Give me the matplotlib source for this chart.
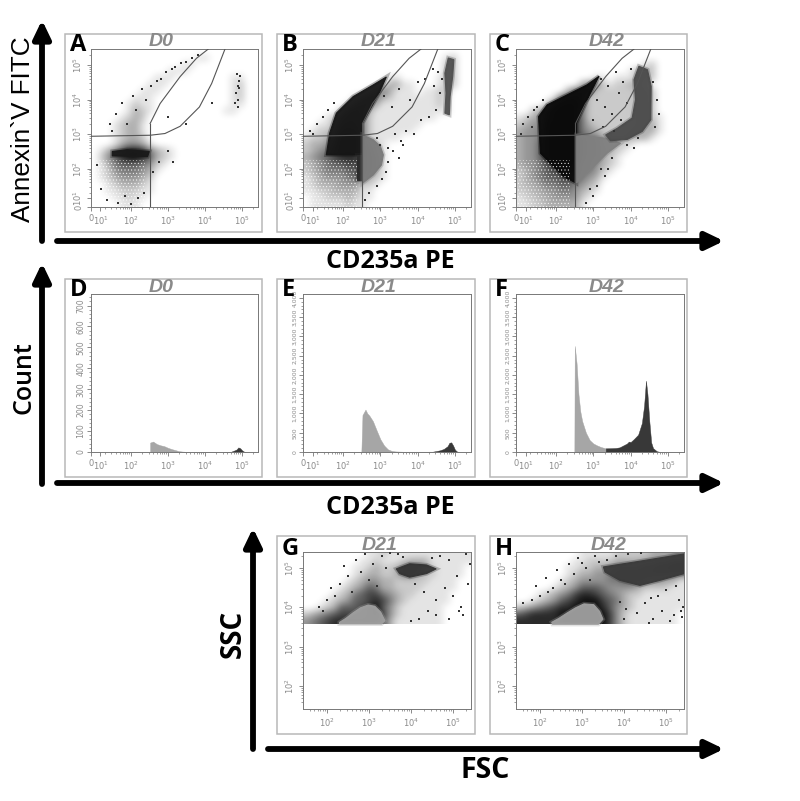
import matplotlib
matplotlib.use('Agg')
import matplotlib.pyplot as plt
import numpy as np
from matplotlib.colors import LinearSegmentedColormap
from matplotlib.patches import Rectangle, Polygon

# all x/y values below are log10 of the channel
# density rows are digits 0-9, how dark the cloud looks in that cell

A_rows = ["000000000000000000000000",
          "000000000000000110000000",
          "000000000000011000000000",
          "000000000001110000000000",
          "000000000111000000001100",
          "000000001110000000001200",
          "000000011100000000001200",
          "000000111000000000001200",
          "000001211000000000001100",
          "000001321000000000011000",
          "000012320000000000000000",
          "000123310000000000000000",
          "000123310000000000000000",
          "000123320000000000000000",
          "000134431000000000000000",
          "013579985321000000000000",
          "024689986321000000000000",
          "013566654210000000000000",
          "012455543100000000000000",
          "012344432000000000000000",
          "001233321000000000000000",
          "001122211000000000000000",
          "000112110000000000000000",
          "000011100000000000000000"]

B_rows = ["000000000000000000000000",
          "000000000000000000001200",
          "000000000000000000002200",
          "000000000000000000002200",
          "000000000000110000012200",
          "000000000001331100012200",
          "000000000135311101122000",
          "000000013553211111121000",
          "000000145531111111121000",
          "000002565311111111111000",
          "000125665211111111100000",
          "001136665211111110000000",
          "012247775211111100000000",
          "122358885211110000000000",
          "233468885321000000000000",
          "234578885421000000000000",
          "345678885431000000000000",
          "234566775431000000000000",
          "234555665431000000000000",
          "123444565321000000000000",
          "123334442210000000000000",
          "112233331100000000000000",
          "011222321100000000000000",
          "011111211000000000000000"]

C_rows = ["000000000000000000000000",
          "000000000000000000000000",
          "000000000000000000120000",
          "000000000000000013320000",
          "000000000001101113320000",
          "000000000355212233200000",
          "000000036662222223320000",
          "000001677622222223320000",
          "000027888622222223320000",
          "002378888522222223320000",
          "123478888522222223321000",
          "234488888532222223331000",
          "344588888543222233331000",
          "344588888655333333310000",
          "344688888655332210000000",
          "344688888655432100000000",
          "344688888655321000000000",
          "344578888554321000000000",
          "234567787554210000000000",
          "234566776543100000000000",
          "233455665432000000000000",
          "223344554321000000000000",
          "122334444210000000000000",
          "112233333100000000000000"]

G_rows = ["000000000112111111111111",
          "000000001121112333111111",
          "000000011232235553211110",
          "000000012332235532211110",
          "000000123443322222111100",
          "000001234653322221111100",
          "000012356775432211111000",
          "000123466787532111111000",
          "001236667896421111110000",
          "234567777897421111110000",
          "456788888886311111110000"]

H_rows = ["000000000111112222233344",
          "000000001122223333445566",
          "000000011223345555667788",
          "000000012334456666666655",
          "000000123444455666544331",
          "000001234666544443222211",
          "000123457887654322111111",
          "001234678999765321111111",
          "234567889999864321111111",
          "678888999999974211111110",
          "888888899999974211111110"]

# gate lines, same in A B C
gate_up_x = [2.52, 2.79, 3.33, 3.77, 4.09]
gate_up_y = [3.31, 3.89, 4.67, 5.20, 5.47]
gate_low_x = [0.925, 2.52, 2.92, 3.33, 3.85, 4.18, 4.54]
gate_low_y = [2.94, 2.97, 3.02, 3.23, 3.79, 4.47, 5.47]
gate_v_x = [2.52, 2.52]
gate_v_y = [0.89, 3.31]

# solid populations
A_core_x = [1.5, 2.45, 2.5, 1.9, 1.5]
A_core_y = [2.37, 2.35, 2.5, 2.55, 2.5]

B_wedge_x = [1.64, 1.82, 2.27, 2.81, 3.16, 2.99, 2.72, 2.52, 2.52, 1.55]
B_wedge_y = [3.03, 3.61, 4.09, 4.43, 4.66, 4.24, 3.71, 3.32, 2.40, 2.40]
B_strip_x = [2.38, 2.52, 2.52, 2.38]
B_strip_y = [2.40, 2.40, 1.67, 1.67]
B_grey_x = [2.52, 2.81, 3.0, 3.08, 3.03, 2.81, 2.52]
B_grey_y = [2.98, 2.84, 2.65, 2.40, 2.11, 1.82, 1.58]
B_right_x = [4.82, 4.97, 4.94, 4.87, 4.85, 4.73, 4.76, 4.73]
B_right_y = [5.21, 5.16, 4.68, 4.09, 3.56, 3.61, 4.19, 4.77]

C_black_x = [1.53, 1.76, 2.39, 2.83, 3.15, 2.92, 2.54, 2.54, 2.21, 1.58]
C_black_y = [3.51, 3.85, 4.19, 4.43, 4.68, 4.19, 3.32, 1.58, 1.77, 2.45]
C_grey_x = [2.54, 2.92, 3.37, 3.73, 3.37, 3.01, 2.54]
C_grey_y = [2.98, 2.93, 2.88, 2.74, 2.45, 2.06, 1.58]
C_right_x = [3.33, 3.64, 4.04, 4.13, 4.09, 4.22, 4.45, 4.55, 4.54, 4.31, 3.91, 3.46]
C_right_y = [2.98, 3.17, 3.47, 4.00, 4.58, 4.97, 4.87, 4.39, 3.42, 3.08, 2.85, 2.81]

G_top_x = [3.65, 3.97, 4.37, 4.60, 4.37, 3.97, 3.73]
G_top_y = [4.98, 5.11, 5.08, 4.98, 4.86, 4.77, 4.86]
G_grey_x = [2.30, 2.45, 2.62, 2.80, 2.98, 3.14, 3.28, 3.38, 3.30, 2.30]
G_grey_y = [3.62, 3.72, 3.86, 3.99, 4.06, 4.03, 3.88, 3.66, 3.58, 3.58]

H_top_x = [3.51, 4.46, 5.43, 5.43, 4.86, 4.38, 3.90, 3.55]
H_top_y = [5.03, 5.19, 5.36, 4.86, 4.69, 4.56, 4.69, 4.90]
H_grey_x = [2.28, 2.45, 2.65, 2.85, 3.05, 3.28, 3.42, 3.50, 3.39, 2.30]
H_grey_y = [3.62, 3.72, 3.86, 3.99, 4.09, 4.07, 3.90, 3.70, 3.57, 3.57]

# loose dots
A_dots_x = [1.2, 1.35, 1.1, 1.45, 1.6, 1.5, 1.75, 1.9, 2.05, 2.15, 2.3, 2.4, 2.55, 2.7, 2.8, 2.95, 3.1, 3.2, 3.35, 3.5,
            3.65, 3.8, 1.65, 1.85, 2.0, 2.2, 2.35, 2.6, 2.75, 3.0, 3.15, 4.85, 4.9, 4.95, 4.8, 4.88, 4.92, 4.86, 4.9, 4.93, 3.0, 3.5, 4.2]
A_dots_y = [1.4, 1.1, 2.1, 3.3, 3.6, 3.1, 3.9, 3.3, 4.1, 3.7, 4.3, 4.0, 4.4, 4.55, 4.6, 4.8, 4.9, 4.95, 5.05, 5.1,
            5.2, 5.3, 1.0, 1.2, 0.98, 1.15, 1.3, 1.9, 2.2, 2.5, 2.2, 4.2, 4.4, 4.7, 3.9, 4.0, 4.55, 4.75, 3.8, 4.35, 3.5, 3.3, 3.9]
B_dots_x = [1.1, 1.3, 1.45, 1.6, 1.2, 1.75, 2.9, 3.0, 3.2, 3.4, 3.55, 3.7, 3.9, 4.1, 4.3, 4.5, 3.1, 3.3, 3.5, 3.8, 4.0, 4.2, 4.45, 4.6,
            3.2, 3.35, 3.5, 3.15, 3.6, 2.7, 2.9, 2.6, 3.05, 4.65, 4.55, 4.4]
B_dots_y = [3.1, 3.3, 3.5, 3.7, 3.0, 3.9, 2.9, 2.7, 2.6, 3.0, 2.8, 3.1, 3.0, 3.4, 3.5, 3.7, 4.1, 3.8, 4.3, 4.0, 4.5, 4.6, 4.4, 4.2,
            2.2, 2.5, 2.3, 1.9, 2.7, 1.3, 1.5, 1.1, 1.7, 4.6, 4.8, 4.9]
C_dots_x = [1.1, 1.25, 1.4, 1.35, 1.05, 1.5, 1.65, 3.2, 3.4, 3.6, 3.8, 4.0, 3.1, 3.3, 3.5, 3.7, 3.9, 3.0, 3.25, 3.55, 3.75, 4.6, 4.7, 4.75, 4.65,
            3.1, 3.3, 3.0, 2.8, 2.9, 3.2, 4.1, 3.5, 3.9, 4.2, 3.4]
C_dots_y = [3.3, 3.5, 3.7, 3.2, 3.0, 3.8, 4.0, 4.6, 4.4, 4.8, 4.5, 4.9, 4.0, 3.8, 3.6, 4.2, 3.9, 3.4, 3.2, 3.1, 3.4, 4.5, 4.0, 3.6, 3.2,
            1.5, 1.8, 1.2, 1.0, 1.4, 2.0, 2.6, 2.3, 2.7, 2.9, 2.0]
G_dots_x = [2.7, 2.9, 3.1, 2.5, 2.3, 3.3, 3.4, 3.5, 2.8, 2.2, 2.0, 1.8, 2.4, 4.7, 4.9, 5.1, 5.3, 5.0, 4.8, 5.2, 5.35, 4.6, 4.4, 4.2, 4.0,
            4.3, 4.6, 4.9, 5.15, 3.8, 3.7, 4.1, 4.5, 5.25, 5.4, 2.6, 3.0, 3.2, 1.9, 2.1]
G_dots_y = [5.2, 5.35, 5.1, 4.8, 4.6, 5.3, 5.0, 5.38, 4.9, 4.3, 4.2, 4.0, 5.05, 5.3, 5.2, 4.8, 5.35, 4.3, 4.5, 4.0, 4.6, 4.2, 3.9, 3.7, 3.65,
            4.4, 3.8, 3.7, 3.9, 5.28, 5.35, 4.6, 5.25, 3.8, 5.1, 4.4, 4.7, 4.55, 3.9, 4.5]
H_dots_x = [2.7, 2.9, 3.1, 2.5, 2.3, 3.3, 2.8, 2.2, 2.0, 1.8, 1.6, 2.4, 3.4, 3.6, 3.8, 4.1, 4.4, 4.7, 4.9, 5.1, 5.3, 5.2, 4.6, 4.3, 4.0,
            3.9, 4.5, 4.8, 5.0, 5.35, 5.25, 2.6, 3.0, 2.15, 1.9, 3.2, 4.05, 4.65, 5.4, 5.38]
H_dots_y = [5.1, 5.25, 5.0, 4.7, 4.5, 5.3, 4.85, 4.4, 4.3, 4.2, 4.1, 4.95, 5.15, 5.2, 5.3, 5.35, 5.38, 3.7, 3.9, 3.65, 4.2, 3.8, 3.6, 3.85, 3.7,
            4.15, 4.1, 4.3, 4.45, 3.9, 4.55, 4.6, 5.12, 4.75, 4.55, 4.7, 3.95, 4.25, 4.0, 3.75]

# histograms D E F (grey part, then dark part)
D_grey_x = [2.52, 2.6, 2.7, 2.8, 2.9, 3.0, 3.1, 3.2, 3.3, 3.4, 3.5, 4.5]
D_grey_y = [45, 50, 38, 32, 28, 20, 14, 9, 4, 2, 1, 1]
D_dark_x = [4.5, 4.7, 4.8, 4.85, 4.9, 4.95, 5.0, 5.05, 5.1]
D_dark_y = [1, 1, 8, 12, 22, 18, 8, 2, 0]

E_grey_x = [2.49, 2.52, 2.6, 2.65, 2.7, 2.8, 2.9, 3.0, 3.1, 3.2, 3.3, 3.4, 3.6, 4.3]
E_grey_y = [0, 960, 1100, 1000, 950, 800, 560, 330, 170, 70, 30, 15, 8, 8]
E_dark_x = [4.3, 4.4, 4.5, 4.6, 4.7, 4.8, 4.85, 4.9, 4.95, 5.0, 5.05, 5.1]
E_dark_y = [8, 8, 25, 45, 80, 150, 240, 250, 170, 60, 15, 0]

F_grey_x = [2.49, 2.5, 2.55, 2.6, 2.65, 2.7, 2.8, 2.9, 3.0, 3.1, 3.2, 3.33]
F_grey_y = [0, 2750, 2300, 1500, 1050, 800, 500, 310, 220, 170, 130, 95]
F_dark_x = [3.33, 3.5, 3.6, 3.7, 3.8, 3.9, 3.95, 4.0, 4.09, 4.2, 4.3, 4.36, 4.41, 4.45, 4.5, 4.55, 4.6, 4.7, 4.8]
F_dark_y = [95, 100, 105, 120, 170, 220, 270, 260, 340, 450, 750, 1200, 1850, 1500, 800, 250, 100, 20, 0]

D_counts = [0, 100, 200, 300, 400, 500, 600, 700]
E_counts = [0, 500, 1000, 1500, 2000, 2500, 3000, 3500, 4000]

W, H = 800, 801
cmap = LinearSegmentedColormap.from_list('dots', ['#ffffff', '#101010'])
grey_text = '#8a8a8a'
tick_col = '#777777'
plt.rcParams['hatch.linewidth'] = 0.3

fig = plt.figure(figsize=(W / 100, H / 100), dpi=100)
bg = fig.add_axes([0, 0, 1, 1])
bg.set_xlim(0, W)
bg.set_ylim(H, 0)
bg.axis('off')


def arrow(x0, y0, x1, y1):
    bg.annotate('', xy=(x1, y1), xytext=(x0, y0),
                arrowprops=dict(arrowstyle='-|>,head_width=0.37,head_length=0.77', lw=4.2, color='black',
                                shrinkA=0, shrinkB=0, mutation_scale=14))


def make_panel(outer, inner, letter, day, title_x, letter_dy=11, title_dy=8):
    l, t, r, b = outer
    bg.add_patch(Rectangle((l, t), r - l, b - t, fc='white', ec='#b8b8b8', lw=1.1))
    il, it, ir, ib = inner
    ax = fig.add_axes([il / W, 1 - ib / H, (ir - il) / W, (ib - it) / H])
    ax.patch.set_alpha(0)
    for s in ax.spines.values():
        s.set_color('#777777')
        s.set_linewidth(0.7)
    fig.text((l + 5) / W, 1 - (t + letter_dy) / H, letter, fontsize=17, fontweight='bold', family='Open Sans', va='center', ha='left', zorder=5)
    fig.text(title_x / W, 1 - (t + title_dy) / H, day, fontsize=14, fontweight='bold', style='italic', family='Liberation Sans',
             color=grey_text, ha='center', va='center', zorder=5)
    return ax


def log_ticks(ax, xlow, ylow, xlim, ylim):
    # decade labels plus the little ticks between them
    xt = [2, 3, 4, 5]
    yt = [2, 3, 4, 5]
    ax.set_xlim(*xlim)
    ax.set_ylim(*ylim)
    ax.set_xticks(xlow[0] + xt)
    ax.set_xticklabels(xlow[1] + ['$\\mathregular{10^{%d}}$' % d for d in xt])
    minor_x = [d + np.log10(k) for d in range(1, 6) for k in range(2, 10) if xlim[0] + 0.1 < d + np.log10(k) < xlim[1]]
    ax.set_xticks(minor_x, minor=True)
    if ylow is not None:
        ax.set_yticks(ylow[0] + yt)
        ax.set_yticklabels(ylow[1] + ['$\\mathregular{10^{%d}}$' % d for d in yt], rotation=90, va='center')
        minor_y = [d + np.log10(k) for d in range(1, 6) for k in range(2, 10) if ylim[0] + 0.1 < d + np.log10(k) < ylim[1]]
        ax.set_yticks(minor_y, minor=True)
    style_ticks(ax)


def style_ticks(ax):
    ax.tick_params(which='major', length=3.2, width=0.6, color=tick_col, labelsize=6, labelcolor=grey_text, pad=2)
    ax.tick_params(which='minor', length=1.6, width=0.5, color=tick_col)


def density(ax, rows, extent):
    grid = np.array([[int(c) for c in r] for r in rows])
    ax.imshow(grid, cmap=cmap, vmin=0, vmax=9, extent=extent, aspect='auto', interpolation='bicubic', zorder=1)


def blob(ax, xs, ys, col):
    # soft rim first, the reference clouds have no hard edge
    pts = np.column_stack([xs, ys])
    ax.add_patch(Polygon(pts, closed=True, fc='none', ec=col, lw=3.0, alpha=0.3, zorder=2))
    ax.add_patch(Polygon(pts, closed=True, fc=col, ec=col, lw=0.8, alpha=0.95, zorder=2))


def lattice(ax, xs, ys):
    # binning lattice seen low on the log scale
    ax.add_patch(Polygon(np.column_stack([xs, ys]), closed=True, fill=False, ec='white', hatch='.....', lw=0, zorder=2.5))


def dots(ax, xs, ys):
    ax.scatter(xs, ys, s=0.6, c='#333333', marker='s', linewidths=0, zorder=3)


def gates(ax):
    ax.plot(gate_up_x, gate_up_y, color='#555555', lw=0.8, zorder=4)
    ax.plot(gate_low_x, gate_low_y, color='#555555', lw=0.8, zorder=4)
    ax.plot(gate_v_x, gate_v_y, color='#555555', lw=0.8, zorder=4)


xlim1 = (0.925, 5.43)
ylim1 = (0.89, 5.47)
x_low = ([0.925, 1.18], ['0', '$\\mathregular{10^{1}}$'])
y_low = ([0.89, 1.15], ['0', '$\\mathregular{10^{1}}$'])
ext1 = [xlim1[0], xlim1[1], ylim1[0], ylim1[1]]

col_x = [(65, 262), (277, 475), (490, 687)]
inner_x = [(91, 258), (303, 471), (516, 684)]
title_xs = [161, 379, 607]
low_x = [0.925, 2.38, 2.38, 0.925]
low_y = [0.89, 0.89, 2.25, 2.25]

# top row
ax = make_panel((col_x[0][0], 34, col_x[0][1], 232), (inner_x[0][0], 49, inner_x[0][1], 207), 'A', 'D0', title_xs[0])
density(ax, A_rows, ext1)
lattice(ax, low_x, low_y)
blob(ax, A_core_x, A_core_y, '#1a1a1a')
dots(ax, A_dots_x, A_dots_y)
gates(ax)
log_ticks(ax, x_low, y_low, xlim1, ylim1)

ax = make_panel((col_x[1][0], 34, col_x[1][1], 232), (inner_x[1][0], 49, inner_x[1][1], 207), 'B', 'D21', title_xs[1])
density(ax, B_rows, ext1)
lattice(ax, low_x, low_y)
blob(ax, B_wedge_x, B_wedge_y, '#161616')
blob(ax, B_strip_x, B_strip_y, '#2a2a2a')
blob(ax, B_grey_x, B_grey_y, '#7a7a7a')
blob(ax, B_right_x, B_right_y, '#505050')
dots(ax, B_dots_x, B_dots_y)
gates(ax)
log_ticks(ax, x_low, y_low, xlim1, ylim1)

ax = make_panel((col_x[2][0], 34, col_x[2][1], 232), (inner_x[2][0], 49, inner_x[2][1], 207), 'C', 'D42', title_xs[2])
density(ax, C_rows, ext1)
lattice(ax, low_x, low_y)
blob(ax, C_black_x, C_black_y, '#0a0a0a')
blob(ax, C_grey_x, C_grey_y, '#808080')
blob(ax, C_right_x, C_right_y, '#4a4a4a')
dots(ax, C_dots_x, C_dots_y)
gates(ax)
log_ticks(ax, x_low, y_low, xlim1, ylim1)

# histograms
hist_data = [('D', 'D0', D_grey_x, D_grey_y, D_dark_x, D_dark_y, D_counts, 755, 5.6),
             ('E', 'D21', E_grey_x, E_grey_y, E_dark_x, E_dark_y, E_counts, 4100, 4.4),
             ('F', 'D42', F_grey_x, F_grey_y, F_dark_x, F_dark_y, E_counts, 4100, 4.4)]
for i, (letter, day, gx, gy, dx, dy, counts, top, lab_size) in enumerate(hist_data):
    ax = make_panel((col_x[i][0], 279, col_x[i][1], 477), (inner_x[i][0], 294, inner_x[i][1], 452), letter, day, title_xs[i])
    ax.fill_between(gx, 0, gy, color='#a6a6a6', lw=0.3)
    ax.fill_between(dx, 0, dy, color='#383838', lw=0.3)
    log_ticks(ax, x_low, None, xlim1, (0, top))
    ax.set_yticks(counts)
    ax.set_yticklabels([f'{c:,}' for c in counts], rotation=90, va='center')
    step = counts[1] / 5
    ax.set_yticks(np.arange(0, top, step), minor=True)
    style_ticks(ax)
    ax.tick_params(axis='y', which='major', labelsize=lab_size, pad=1)

# bottom row
xlim3 = (1.43, 5.43)
ylim3 = (1.415, 5.41)
ext3 = [xlim3[0], xlim3[1], 3.57, ylim3[1]]
ax = make_panel((277, 536, 475, 734), (303, 552, 471, 709), 'G', 'D21', 380, letter_dy=13, title_dy=10)
density(ax, G_rows, ext3)
blob(ax, G_top_x, G_top_y, '#333333')
blob(ax, G_grey_x, G_grey_y, '#a0a0a0')
dots(ax, G_dots_x, G_dots_y)
log_ticks(ax, ([], []), ([], []), xlim3, ylim3)

ax = make_panel((490, 536, 687, 734), (516, 552, 684, 709), 'H', 'D42', 609, letter_dy=13, title_dy=10)
density(ax, H_rows, ext3)
blob(ax, H_top_x, H_top_y, '#3a3a3a')
blob(ax, H_grey_x, H_grey_y, '#a0a0a0')
dots(ax, H_dots_x, H_dots_y)
log_ticks(ax, ([], []), ([], []), xlim3, ylim3)

# arrows and the big labels
arrow(42, 241, 42, 20)
arrow(57, 241, 724, 241)
arrow(42, 484, 42, 263)
arrow(57, 483, 724, 483)
arrow(253, 749, 253, 528)
arrow(268, 749, 724, 749)

bg.text(23, 129, 'Annexin`V FITC', rotation=90, fontsize=18.8, family='Liberation Sans', ha='center', va='center')
bg.text(390, 261, 'CD235a PE', fontsize=18, fontweight='bold', family='Open Sans', ha='center', va='center')
bg.text(24, 378, 'Count', rotation=90, fontsize=18, fontweight='semibold', family='Open Sans', ha='center', va='center')
bg.text(390, 507, 'CD235a PE', fontsize=18, fontweight='bold', family='Open Sans', ha='center', va='center')
bg.text(233, 634, 'SSC', rotation=90, fontsize=20, fontweight='bold', family='Open Sans', ha='center', va='center')
bg.text(485, 771, 'FSC', fontsize=20.5, fontweight='bold', family='Open Sans', ha='center', va='center')

fig.savefig('out.png', dpi=100)
